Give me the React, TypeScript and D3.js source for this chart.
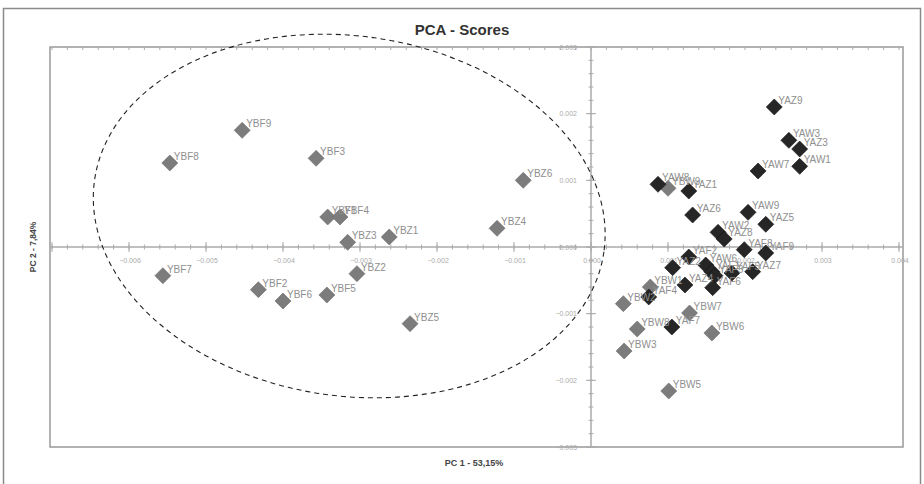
import React from 'react';
import * as d3 from 'd3';

// PCA scores
const labels = [
  'YBF8', 'YBF9', 'YBF3', 'YBF1', 'YBF4', 'YBZ3', 'YBZ1', 'YBZ4', 'YBZ6', 'YBF7', 'YBF2', 'YBF6', 'YBF5', 'YBZ2', 'YBZ5',
  'YBW2', 'YBW1', 'YBW8', 'YBW3', 'YBW5', 'YBW7', 'YBW6', 'YBW9',
  'YAZ9', 'YAW3', 'YAZ3', 'YAW1', 'YAW7', 'YAW8', 'YAZ1', 'YAZ6', 'YAW9', 'YAZ5', 'YAW2', 'YAZ8', 'YAF8', 'YAF9',
  'YAF2', 'YAZ2', 'YAW6', 'YAF1', 'YAF3', 'YAF5', 'YAZ7', 'YAF6', 'YAZ4', 'YAF4', 'YAF7',
];
const pc1 = [
  -0.00547, -0.00453, -0.00357, -0.00342, -0.00326, -0.00316, -0.00262, -0.00122, -0.00088, -0.00556, -0.00432, -0.004, -0.00343, -0.00304, -0.00235,
  0.00042, 0.00077, 0.0006, 0.00043, 0.00101, 0.00128, 0.00157, 0.001,
  0.00238, 0.00257, 0.00271, 0.00271, 0.00217, 0.00087, 0.00127, 0.00132, 0.00204, 0.00227, 0.00165, 0.00173, 0.00199, 0.00227,
  0.00127, 0.00106, 0.00149, 0.00157, 0.00161, 0.00183, 0.0021, 0.00158, 0.00122, 0.00075, 0.00105,
];
const pc2 = [
  0.00126, 0.00175, 0.00133, 0.00045, 0.00045, 0.00007, 0.00015, 0.00028, 0.001, -0.00043, -0.00064, -0.00081, -0.00072, -0.0004, -0.00115,
  -0.00085, -0.0006, -0.00123, -0.00156, -0.00216, -0.00099, -0.00129, 0.00088,
  0.0021, 0.0016, 0.00147, 0.00121, 0.00114, 0.00094, 0.00084, 0.00048, 0.00052, 0.00034, 0.00022, 0.00012, -0.00004, -0.00009,
  -0.00015, -0.00031, -0.00027, -0.00037, -0.00043, -0.00039, -0.00037, -0.00061, -0.00057, -0.00075, -0.0012,
];
// ellipse around the YB group: centre and radii in score units, tilt in degrees
const ellipseCenter = [-0.00314, 0.000465];
const ellipseRadii = [0.00334, 0.0027];
const ellipseTilt = 8;

const W = 924;
const H = 484;

export default function App() {
  const x = d3.scaleLinear().domain([-0.007, 0.004]).range([52, 899]);
  const y = d3.scaleLinear().domain([-0.003, 0.003]).range([447, 47]);
  const fmt = d3.format('.3f');

  const x0 = x(0);
  const y0 = y(0);
  const left = 50, right = 903, top = y(0.003), bottom = y(-0.003);

  const xMinor = x.ticks(55);
  const xMajor = x.ticks(11);
  const yMinor = y.ticks(30);
  const yMajor = y.ticks(6);

  const pts = labels.map((l, i) => ({ label: l, px: x(pc1[i]), py: y(pc2[i]), grey: l.startsWith('YB') }));
  const diamond = (cx: number, cy: number, r: number) =>
    `M${cx},${cy - r}L${cx + r},${cy}L${cx},${cy + r}L${cx - r},${cy}Z`;

  const ex = x(ellipseCenter[0]);
  const ey = y(ellipseCenter[1]);
  const erx = x(ellipseCenter[0] + ellipseRadii[0]) - ex;
  const ery = ey - y(ellipseCenter[1] + ellipseRadii[1]);

  return (
    <svg width={W} height={H} style={{ position: 'absolute', left: 0, top: 0, background: '#fff' }}
      fontFamily="Liberation Sans, Arial, sans-serif">
      <rect x={3.5} y={8.5} width={917} height={490} fill="none" stroke="#8a8a8a" strokeWidth={1.5} />
      <text x={462} y={35} textAnchor="middle" fontSize={15} fontWeight="bold" fill="#333">PCA - Scores</text>

      {/* plot frame */}
      <rect x={left} y={top} width={right - left} height={bottom - top} fill="none" stroke="#999" strokeWidth={1.5} />
      {xMinor.map((t, i) => (
        <line key={'tt' + i} x1={x(t)} x2={x(t)} y1={top} y2={top + 3} stroke="#aaa" />
      ))}

      {/* axes through the origin */}
      <line x1={left} x2={right} y1={y0} y2={y0} stroke="#aaa" strokeWidth={1.5} />
      <line x1={x0} x2={x0} y1={top} y2={bottom} stroke="#aaa" strokeWidth={1.5} />
      {xMinor.map((t, i) => (
        <line key={'xm' + i} x1={x(t)} x2={x(t)} y1={y0 - 2.5} y2={y0 + 2.5} stroke="#aaa" />
      ))}
      {xMajor.map((t, i) => (
        <line key={'xM' + i} x1={x(t)} x2={x(t)} y1={y0 - 5} y2={y0 + 5} stroke="#aaa" />
      ))}
      {yMinor.map((t, i) => (
        <line key={'ym' + i} x1={x0 - 2.5} x2={x0 + 2.5} y1={y(t)} y2={y(t)} stroke="#aaa" />
      ))}
      {yMajor.map((t, i) => (
        <line key={'yM' + i} x1={x0 - 5} x2={x0 + 5} y1={y(t)} y2={y(t)} stroke="#aaa" />
      ))}
      {xMajor.filter((t) => t > -0.0065).map((t, i) => (
        <text key={'xl' + i} x={x(t) + 1} y={y0 + 16} textAnchor="middle" fontSize={7} fill="#aaa">{fmt(t)}</text>
      ))}
      {yMajor.map((t, i) => (
        <text key={'yl' + i} x={x0 - 14} y={y(t) + 2.5} textAnchor="end" fontSize={7} fill="#aaa">{fmt(t)}</text>
      ))}

      <ellipse cx={ex} cy={ey} rx={erx} ry={ery} transform={`rotate(${ellipseTilt},${ex},${ey})`}
        fill="none" stroke="#222" strokeWidth={1.1} strokeDasharray="5,4" />

      {pts.map((p) => (
        <path key={'p' + p.label} d={diamond(p.px, p.py, 8)} fill={p.grey ? '#7c7c7c' : '#262626'}
          stroke={p.grey ? '#6a6a6a' : '#111'} strokeWidth={0.6} />
      ))}
      {pts.map((p) => (
        <text key={'l' + p.label} x={p.px + 4} y={p.py - 3} fontSize={10} fill="#8f8f8f">{p.label}</text>
      ))}

      <text x={474} y={466} textAnchor="middle" fontSize={9} fontWeight="bold" fill="#444">PC 1 - 53,15%</text>
      <text transform={`translate(36,247) rotate(-90)`} textAnchor="middle" fontSize={8.5} fontWeight="bold" fill="#444">
        PC 2 - 7,84%
      </text>
    </svg>
  );
}
